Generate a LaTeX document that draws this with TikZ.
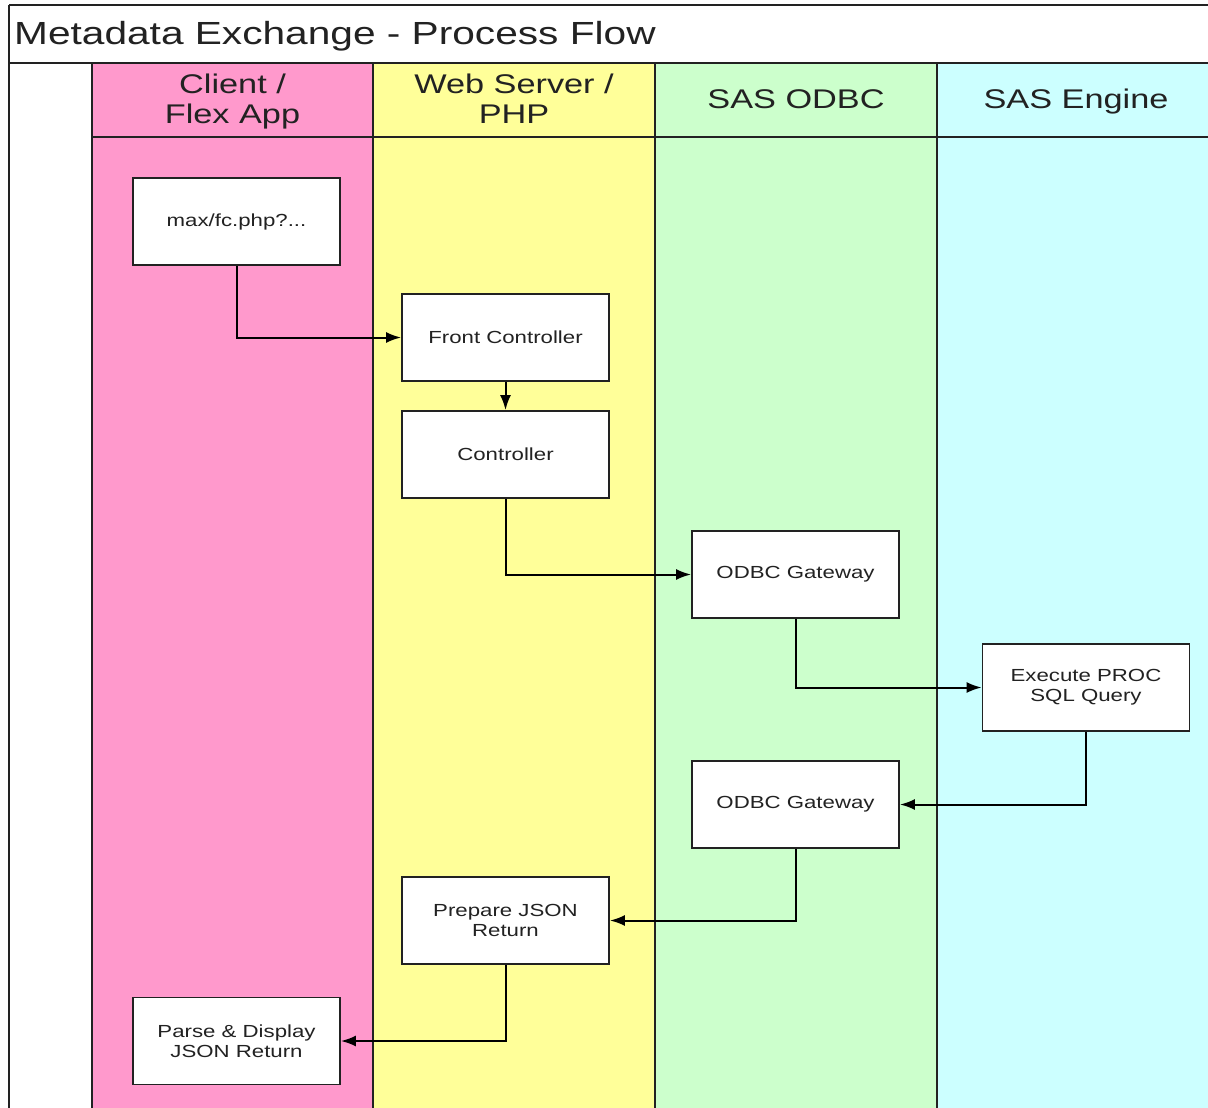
\documentclass[tikz,border=0pt]{standalone}
\usepackage{fontspec}
\setmainfont{Liberation Sans}[FakeStretch=1.27]
\usetikzlibrary{arrows.meta}
\definecolor{lanepink}{HTML}{FF99CC}
\definecolor{laneyellow}{HTML}{FFFF99}
\definecolor{lanegreen}{HTML}{CCFFCC}
\definecolor{lanecyan}{HTML}{CCFFFF}
\definecolor{inkgray}{HTML}{222222}
\begin{document}
\begin{tikzpicture}[x=1pt,y=-1pt,
  laneline/.style={draw=inkgray,line width=2.2pt},
  procbox/.style={draw=inkgray,line width=1.8pt,fill=white,minimum width=207pt,minimum height=87pt,
    inner sep=2pt,align=center,font=\fontsize{17.5}{20}\selectfont,text=inkgray},
  hdr/.style={align=center,anchor=base,font=\fontsize{27}{30}\selectfont,text=inkgray},
  conn/.style={draw=black,line width=2pt,-{Latex[length=15pt,width=11pt]}}]
\useasboundingbox (0,0) rectangle (1208,1108);
\clip (0,0) rectangle (1208,1108);
% lanes
\fill[white] (0,0) rectangle (1208,1108);
\fill[lanepink] (92,63) rectangle (373,1120);
\fill[laneyellow] (373,63) rectangle (655,1120);
\fill[lanegreen] (655,63) rectangle (937,1120);
\fill[lanecyan] (937,63) rectangle (1220,1120);
% frame lines
\draw[laneline] (9,5) -- (1220,5);
\draw[laneline] (9,5) -- (9,1120);
\draw[laneline] (9,63) -- (1220,63);
\draw[laneline] (92,137) -- (1220,137);
\draw[laneline] (92,63) -- (92,1120);
\draw[laneline] (373,63) -- (373,1120);
\draw[laneline] (655,63) -- (655,1120);
\draw[laneline] (937,63) -- (937,1120);
% title
\node[anchor=base west,inner sep=0pt,font=\fontsize{32}{36}\selectfont,text=inkgray] (title) at (14,45) {Metadata Exchange - Process Flow};
% headers
\node[hdr] (h1) at (232.5,124) {Client /\\Flex App};
\node[hdr] (h2) at (514,124) {Web Server /\\PHP};
\node[hdr] (h3) at (796,109) {SAS ODBC};
\node[hdr] (h4) at (1076,109) {SAS Engine};
% boxes
\node[procbox] (max) at (236.5,221.5) {max/fc.php?...};
\node[procbox] (front) at (505.5,337.5) {Front Controller};
\node[procbox] (ctrl) at (505.5,454.5) {Controller};
\node[procbox] (odbcA) at (795.5,574.5) {ODBC Gateway};
\node[procbox] (exec) at (1086,687.5) {Execute PROC\\SQL Query};
\node[procbox] (odbcB) at (795.5,804.5) {ODBC Gateway};
\node[procbox] (prep) at (505.5,920.5) {Prepare JSON\\Return};
\node[procbox] (parse) at (236.5,1041) {Parse \& Display\\JSON Return};
% connectors
\draw[conn] (max.south) |- (front.west);
\draw[conn] (front.south) -- (ctrl.north);
\draw[conn] (ctrl.south) |- (odbcA.west);
\draw[conn] (odbcA.south) |- (exec.west);
\draw[conn] (exec.south) |- (odbcB.east);
\draw[conn] (odbcB.south) |- (prep.east);
\draw[conn] (prep.south) |- (parse.east);
\end{tikzpicture}
\end{document}
